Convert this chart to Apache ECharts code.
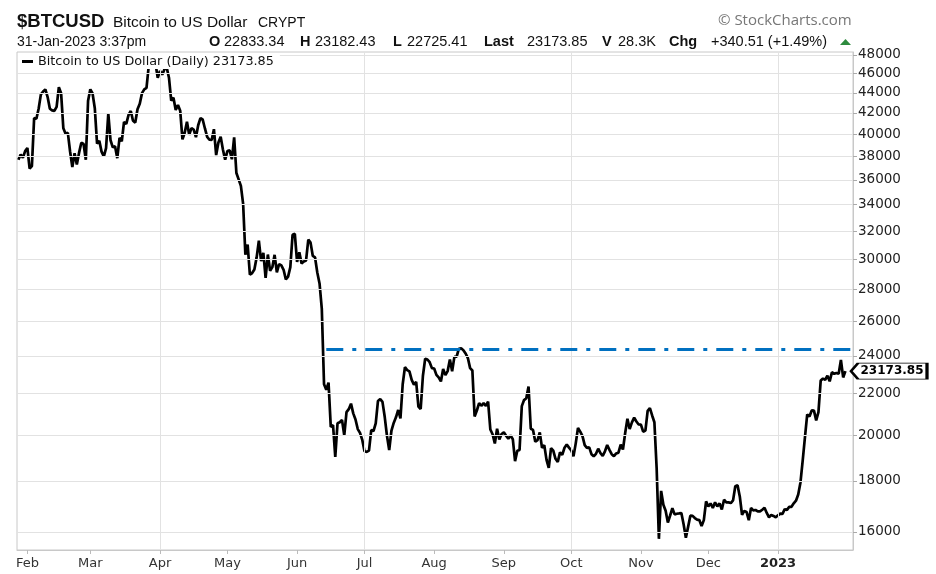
<!DOCTYPE html>
<html><head><meta charset="utf-8">
<script src="https://cdn.jsdelivr.net/npm/echarts@6/dist/echarts.min.js"></script>
<style>html,body{margin:0;padding:0;background:#fff}#c{width:936px;height:574px}</style>
</head><body><div id="c"></div>
<script>
// ---------- data ----------
const seriesName = 'Bitcoin to US Dollar (Daily)';
const firstDate = '2022-01-28';
const close2022Jan = [37716, 38166, 37881, 38466];
const close2022Feb = [38744, 36953, 37154, 41500, 41441, 42412, 43840, 44118, 44338, 43565, 42407, 42244, 42197, 42586, 44575, 43961, 40538, 40030, 40122, 38431, 37075, 38286, 37296, 38332, 39214, 39105, 37709, 43193];
const close2022Mar = [44354, 43925, 42452, 39137, 39400, 38420, 37989, 38730, 41941, 39439, 38794, 38904, 37849, 39666, 39338, 41143, 40951, 41801, 42191, 41247, 41078, 42358, 42892, 43960, 44348, 44500, 46821, 47128, 47466, 47062, 45538];
const close2022Apr = [46281, 45869, 46453, 46622, 45555, 43206, 43503, 42287, 42782, 42207, 39521, 40127, 41166, 39936, 40553, 40424, 39716, 40826, 41502, 41374, 40527, 39741, 39486, 39470, 40458, 38117, 39241, 39773, 38610, 37714];
const close2022May = [38469, 38529, 37750, 39698, 36575, 36041, 35502, 34060, 30297, 31022, 28937, 29047, 29283, 30101, 31305, 29862, 30425, 28720, 30315, 29201, 29445, 30293, 29099, 29655, 29562, 29267, 28627, 28814, 29445, 31726, 31792];
const close2022Jun = [29799, 30467, 29704, 29832, 29906, 31370, 31155, 30214, 30112, 29083, 28360, 26762, 22487, 22206, 22572, 20381, 20471, 19017, 20553, 20599, 20710, 19988, 21085, 21232, 21502, 21027, 20735, 20280, 20104, 19784];
const close2022Jul = [19269, 19243, 19297, 20231, 20190, 20548, 21637, 21731, 21592, 20860, 19970, 19323, 20212, 20569, 20836, 21190, 20779, 22485, 23389, 23231, 23164, 22714, 22465, 22609, 21361, 21239, 22930, 23843, 23804, 23656, 23336];
const close2022Aug = [23314, 22978, 22846, 22630, 23289, 22961, 23175, 23810, 23164, 23947, 23957, 24402, 24424, 24319, 24136, 23883, 23335, 23212, 20877, 21166, 21534, 21398, 21528, 21395, 21600, 20260, 20041, 19616, 20297, 19796, 20049];
const close2022Sep = [20127, 19969, 19832, 19986, 19812, 18837, 19290, 19329, 21381, 21680, 21769, 22370, 20296, 20241, 19701, 19772, 20127, 19419, 19544, 18891, 18547, 19413, 19297, 18937, 18802, 19222, 19110, 19426, 19573, 19431];
const close2022Oct = [19312, 19044, 19623, 20336, 20160, 19955, 19546, 19416, 19446, 19141, 19051, 19157, 19382, 19185, 19067, 19268, 19550, 19334, 19139, 19053, 19172, 19208, 19567, 19345, 20095, 20771, 20285, 20595, 20818, 20635, 20495];
const close2022Nov = [20485, 20159, 20209, 21147, 21282, 20926, 20602, 18541, 15750, 17587, 17034, 16799, 16354, 16619, 16900, 16663, 16687, 16698, 16712, 16291, 15787, 16190, 16611, 16604, 16521, 16464, 16445, 16217, 16444, 17168];
const close2022Dec = [16967, 17088, 16908, 17130, 16974, 17089, 16848, 17233, 17133, 17128, 17104, 17207, 17781, 17815, 17365, 16647, 16796, 16757, 16439, 16907, 16817, 16831, 16779, 16778, 16842, 16919, 16717, 16552, 16642, 16603, 16548];
const close2023Jan = [16625, 16688, 16680, 16863, 16836, 16951, 16955, 17091, 17196, 17446, 17934, 18869, 19910, 20976, 20880, 21170, 21161, 20689, 21086, 22676, 22777, 22720, 22934, 22636, 23117, 23032, 23078, 23031, 23775, 22840, 23173.85];

const lastClose = 23173.85;
const yTickValues = [16000, 18000, 20000, 22000, 24000, 26000, 28000, 30000, 32000, 34000, 36000, 38000, 40000, 42000, 44000, 46000, 48000];
const yRange = [15350, 48330];
const xRange = ['2022-01-27T09:00:00Z', '2023-02-03T09:00:00Z'];
const monthTickDates = ['2022-02-01','2022-03-01','2022-04-01','2022-05-01','2022-06-01','2022-07-01','2022-08-01','2022-09-01','2022-10-01','2022-11-01','2022-12-01','2023-01-01'];
const monthTickLabels = ['Feb','Mar','Apr','May','Jun','Jul','Aug','Sep','Oct','Nov','Dec','2023'];
const quarterLineDates = ['2022-04-01','2022-07-01','2022-10-01','2023-01-01'];
const resistanceLevel = 24400;
const resistanceStartDate = '2022-06-14';

const headerLine2 = [
  ['O', true], ['22833.34', false], ['H', true], ['23182.43', false], ['L', true], ['22725.41', false],
  ['Last', true], ['23173.85', false], ['V', true], ['28.3K', false], ['Chg', true], ['+340.51 (+1.49%)', false]
];

// ---------- build ----------
const DAY = 86400000;
const ts = d => Date.parse(d.length > 10 ? d : d + 'T00:00:00Z');
const allCloses = [].concat(close2022Jan, close2022Feb, close2022Mar, close2022Apr, close2022May, close2022Jun,
  close2022Jul, close2022Aug, close2022Sep, close2022Oct, close2022Nov, close2022Dec, close2023Jan);
const t0 = ts(firstDate);
const priceData = allCloses.map((v, i) => [t0 + i * DAY, v]);
const xMin = ts(xRange[0]), xMax = ts(xRange[1]);
const monthTs = monthTickDates.map(ts);

const FONT = '"Liberation Sans", Arial';
const headerX = [209, 224, 300, 315, 393, 407, 484, 527, 602, 618, 669, 711];
const graphics = [
  {type:'text', x:17, y:22, style:{text:'$BTCUSD', fontSize:18.5, fontWeight:'bold', fontFamily:FONT, fill:'#111', verticalAlign:'middle', textVerticalAlign:'middle'}},
  {type:'text', x:113, y:23, style:{text:'Bitcoin to US Dollar', fontSize:15.5, fontFamily:FONT, fill:'#111', verticalAlign:'middle', textVerticalAlign:'middle'}},
  {type:'text', x:258, y:23, style:{text:'CRYPT', fontSize:14, fontFamily:FONT, fill:'#111', verticalAlign:'middle', textVerticalAlign:'middle'}},
  {type:'text', x:718, y:21, style:{text:'\u00A9 StockCharts.com', fontSize:15, fontFamily:'"Open Sans", "Noto Sans"', fill:'#777', verticalAlign:'middle', textVerticalAlign:'middle'}},
  {type:'text', x:17, y:42, style:{text:'31-Jan-2023 3:37pm', fontSize:14, fontFamily:FONT, fill:'#111', verticalAlign:'middle', textVerticalAlign:'middle'}},
  {type:'polygon', shape:{points:[[840,45],[851,45],[845.5,39]]}, style:{fill:'#2e8b3e'}}
];
headerLine2.forEach((p, i) => {
  graphics.push({type:'text', x:headerX[i], y:42, style:{text:p[0], fontSize:p[1] ? 14.5 : 14.5, fontWeight:p[1]?'bold':'normal',
    fontFamily:FONT, fill:'#111', verticalAlign:'middle', textVerticalAlign:'middle'}});
});

const chart = echarts.init(document.getElementById('c'), null, {renderer:'canvas'});
chart.setOption({
  animation: false,
  backgroundColor: '#fff',
  grid: {left:17, top:52, right:83, bottom:24, show:true, borderColor:'#c8c8c8', borderWidth:1, backgroundColor:'#fff'},
  graphic: graphics,
  legend: {
    data:[seriesName], left:18, top:53, z:20, backgroundColor:'#fff', padding:[2,6,1,4], icon:'rect', itemWidth:11, itemHeight:3,
    selectedMode:false, textStyle:{fontFamily:'"DejaVu Sans"', fontSize:12.8, color:'#111'},
    formatter: n => n + ' ' + lastClose.toFixed(2)
  },
  xAxis: {
    type:'value', min:xMin, max:xMax, scale:true,
    axisLine:{show:true, lineStyle:{color:'#c8c8c8'}},
    axisTick:{show:true, customValues:monthTs, length:4, lineStyle:{color:'#bbb'}},
    splitLine:{show:false},
    axisLabel:{
      customValues:monthTs, margin:7, color:'#333', fontFamily:'"DejaVu Sans"', fontSize:13,
      formatter: v => {
        let idx = monthTs.findIndex(t => Math.abs(t - v) < DAY / 2);
        if (idx < 0) return '';
        const lab = monthTickLabels[idx];
        return /^\d{4}$/.test(lab) ? '{b|' + lab + '}' : lab;
      },
      rich:{b:{fontWeight:'bold', fontFamily:'"DejaVu Sans"', fontSize:13, color:'#222'}}
    }
  },
  yAxis: {
    type:'log', logBase:10, position:'right', min:yRange[0], max:yRange[1],
    axisLine:{show:true, lineStyle:{color:'#c8c8c8'}},
    axisTick:{show:true, customValues:yTickValues, length:4, lineStyle:{color:'#aaa'}},
    splitLine:{show:false}, minorTick:{show:false},
    axisLabel:{customValues:yTickValues, margin:5, color:'#222', fontFamily:'"DejaVu Sans"', fontSize:13.5,
      formatter: v => String(Math.round(v))}
  },
  series: [
    {
      name:'grid', type:'line', data:[], z:1, silent:true,
      markLine:{silent:true, symbol:['none','none'], label:{show:false}, animation:false,
        lineStyle:{color:'#e2e2e2', width:1, type:'solid'},
        emphasis:{disabled:true},
        data:[].concat(yTickValues.map(v => ({yAxis:v})), quarterLineDates.map(d => ({xAxis:ts(d)})))}
    },
    {
      name:seriesName, type:'line', data:priceData, z:3, showSymbol:false, symbol:'none', clip:true,
      lineStyle:{color:'#000', width:2.7}, itemStyle:{color:'#000'},
      markLine:{silent:true, symbol:['none','none'], label:{show:false}, animation:false, emphasis:{disabled:true},
        lineStyle:{color:'#0070c0', width:3, type:[17,9,4,9]},
        data:[[{coord:[ts(resistanceStartDate), resistanceLevel]}, {coord:[xMax, resistanceLevel]}]]},
      markPoint:{silent:true, symbol:'path://M0,8L7,0L76,0L76,16L7,16Z', symbolSize:[76,16], symbolKeepAspect:false,
        symbolOffset:[36,0], itemStyle:{color:'#fff', borderColor:'#000', borderWidth:1.5},
        label:{show:true, position:'inside', offset:[3,0], formatter:lastClose.toFixed(2), color:'#000',
          fontWeight:'bold', fontFamily:'"DejaVu Sans"', fontSize:12},
        data:[{coord:[xMax, lastClose]}]}
    }
  ]
});
</script></body></html>
